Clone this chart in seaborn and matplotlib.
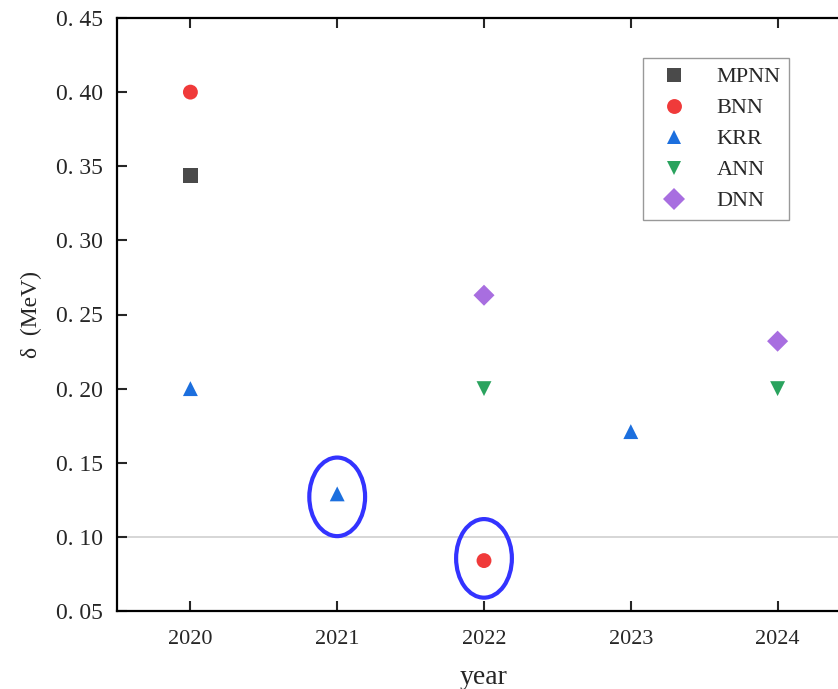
import numpy as np
import pandas as pd
import matplotlib
matplotlib.use("Agg")
import matplotlib.pyplot as plt
import seaborn as sns
from matplotlib.patches import Ellipse

# Data
models = ["MPNN", "BNN", "BNN", "KRR", "KRR", "KRR", "ANN", "ANN", "DNN", "DNN"]
years = [2020, 2020, 2022, 2020, 2021, 2023, 2022, 2024, 2022, 2024]
deltas = [0.344, 0.400, 0.084, 0.200, 0.129, 0.171, 0.200, 0.200, 0.263, 0.232]
model_order = ["MPNN", "BNN", "KRR", "ANN", "DNN"]
year_ticks = [2020, 2021, 2022, 2023, 2024]
y_ticks = [0.05, 0.10, 0.15, 0.20, 0.25, 0.30, 0.35, 0.40, 0.45]

# highlighted points (model, year, small vertical shift of the ring)
highlights = [("KRR", 2021, -0.002), ("BNN", 2022, 0.0015)]

df = pd.DataFrame({"model": models, "year": years, "delta": deltas})

palette = {"MPNN": "#4a4a4a", "BNN": "#f03a3a", "KRR": "#1c6fde",
           "ANN": "#2aa35e", "DNN": "#a86ee0"}
markers = {"MPNN": "s", "BNN": "o", "KRR": "^", "ANN": "v", "DNN": "D"}

sns.set_style("white")
plt.rcParams['font.family'] = ['Liberation Serif', 'DejaVu Serif']

fig = plt.figure(figsize=(8.38, 6.89), dpi=100)
ax = fig.add_axes([117 / 838, 78 / 689, 734 / 838, 593 / 689])

ax.axhline(0.10, color="#cfcfcf", lw=1.2, zorder=0)

sns.scatterplot(data=df, x="year", y="delta", hue="model", style="model",
                hue_order=model_order, style_order=model_order,
                palette=palette, markers=markers, s=115, linewidth=0,
                ax=ax, zorder=3)

for m, yr, dy in highlights:
    yv = df[(df.model == m) & (df.year == yr)]["delta"].iloc[0]
    ax.add_patch(Ellipse((yr, yv + dy), 0.38, 0.053, fill=False,
                         edgecolor="#3333ff", lw=3, zorder=4))

ax.set_xlim(2019.5, 2024.5)
ax.set_ylim(0.05, 0.45)
ax.set_xticks(year_ticks)
ax.set_xticklabels([str(y) for y in year_ticks], fontsize=16)
ax.set_yticks(y_ticks)
ax.set_yticklabels([f"{v:.2f}".replace(".", ". ") for v in y_ticks], fontsize=17)
ax.tick_params(axis="both", direction="in", length=7, width=1.5,
               top=True, left=True, bottom=True, right=False, pad=10)
ax.tick_params(axis="x", pad=14)

for sp in ax.spines.values():
    sp.set_color("black")
    sp.set_linewidth(1.6)

ax.set_xlabel("year", fontsize=20, labelpad=11)
ax.set_ylabel("δ  (MeV)", fontsize=17, labelpad=10)

leg = ax.legend(loc="upper left", bbox_to_anchor=(643 / 838, 1 - 58 / 689),
                bbox_transform=fig.transFigure, borderaxespad=0,
                fontsize=16, frameon=True, fancybox=False, title=None,
                handletextpad=0.9, labelspacing=0.47, borderpad=0.4,
                markerscale=1.0)
leg.get_frame().set_edgecolor("#808080")
leg.get_frame().set_linewidth(1.0)

fig.savefig("out.png", dpi=100)
